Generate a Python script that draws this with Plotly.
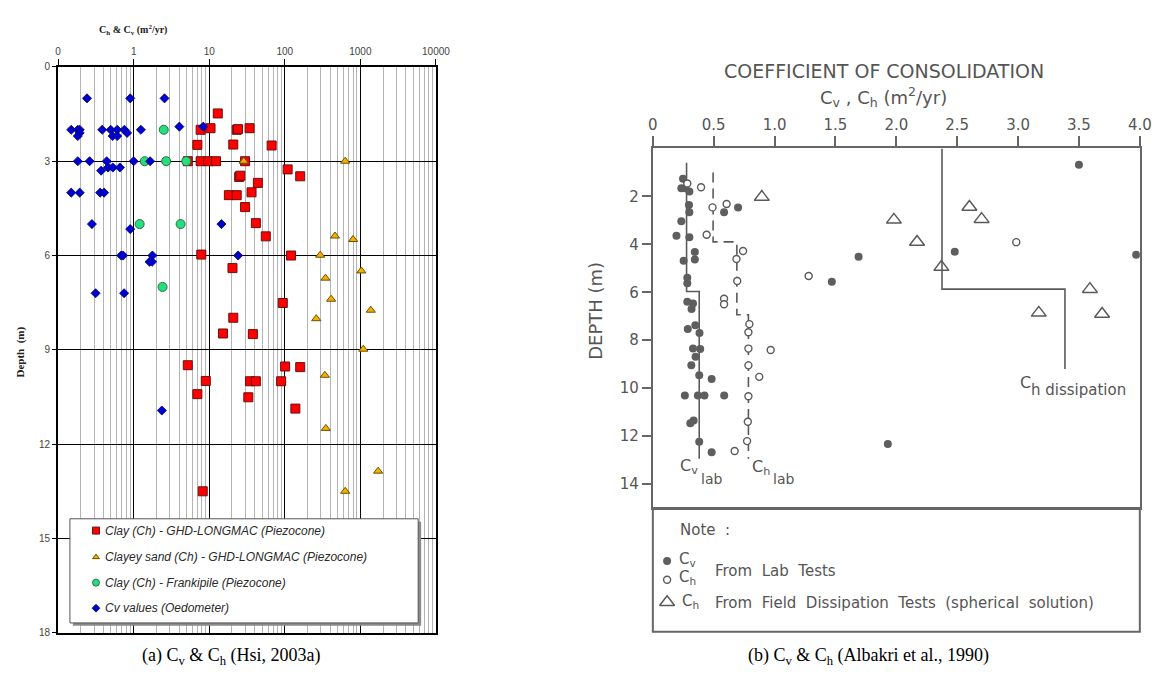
import plotly.graph_objects as go

W, H = 1174, 680

# ---------------- Panel (a): Hsi (2003a), log-scale coefficient ----------------
clay_ch = [12.97, 7.7, 10.4, 23.1, 24, 34.2, 6.96, 20.8, 67, 5.2, 7.7, 9.7, 12.3, 29.8,
           109, 160, 24.9, 25.8, 44, 36.3, 18.2, 23.1, 29.8, 41.4, 56, 7.85, 121, 20.3,
           94, 20.8, 15.2, 37.8, 5.2, 101, 160, 9.0, 34.6, 41.4, 89.4, 6.96, 32.9, 138, 8.2]
clay_depth = [1.48, 2.0, 1.95, 2.0, 1.98, 1.95, 2.48, 2.47, 2.5, 3.0, 3.0, 3.0, 3.0, 3.0,
              3.26, 3.48, 3.5, 3.46, 3.69, 3.99, 4.08, 4.08, 4.46, 4.97, 5.39, 5.97, 6.0, 6.4,
              7.51, 7.98, 8.48, 8.5, 9.49, 9.53, 9.55, 9.99, 10.0, 10.0, 10.0, 10.41, 10.51, 10.87, 13.5]

sand_ch = [28.6, 630, 462, 801, 294, 1030, 345, 410, 1374, 261, 1094, 339, 349, 1718, 630]
sand_depth = [3.0, 3.0, 5.38, 5.49, 5.99, 6.49, 6.72, 7.39, 7.74, 8.01, 8.98, 9.81, 11.5, 12.86, 13.5]

franki_ch = [2.5, 1.40, 2.69, 4.96, 1.2, 4.18, 2.41]
franki_depth = [2.0, 3.0, 3.0, 3.0, 5.0, 5.0, 7.0]

oedo_cv = [0.241, 0.90, 2.56,
           0.149, 0.182, 0.193, 0.383, 0.496, 0.606, 0.754, 1.245,
           0.193, 0.818, 0.182, 0.526, 0.606, 4.02, 8.34,
           0.182, 0.261, 0.44, 1.0, 1.65, 0.458, 0.53, 0.657, 0.371,
           0.149, 0.193, 0.36, 0.406, 0.28, 14.5, 0.9,
           0.683, 0.725, 1.77, 24.1, 1.62, 1.75, 0.313, 0.747, 2.36]
oedo_depth = [1.0, 1.0, 1.0,
              2.0, 2.0, 2.0, 2.0, 2.0, 2.0, 2.0, 2.0,
              2.1, 2.1, 2.2, 2.2, 2.2, 1.9, 1.9,
              3.0, 3.0, 3.0, 3.0, 3.0, 3.2, 3.2, 3.2, 3.3,
              4.0, 4.0, 4.0, 4.0, 5.0, 5.0, 5.16,
              6.0, 6.0, 6.0, 6.0, 6.2, 6.2, 7.2, 7.2, 10.93]

log_tickvals = [0.1, 1, 10, 100, 1000, 10000]
log_ticktext = ["0", "1", "10", "100", "1000", "10000"]
depth_ticks_a = [0, 3, 6, 9, 12, 15, 18]
legend_a = ["Clay (Ch) - GHD-LONGMAC (Piezocone)",
            "Clayey sand (Ch) - GHD-LONGMAC (Piezocone)",
            "Clay (Ch) - Frankipile (Piezocone)",
            "Cv values (Oedometer)"]

# ---------------- Panel (b): Albakri et al. (1990), linear coefficient ----------------
cv_lab_x = [0.248, 0.234, 0.267, 0.30, 0.297, 0.30, 0.234, 0.194, 0.30, 0.345, 0.345, 0.253,
            0.283, 0.283, 0.283, 0.33, 0.318, 0.585, 0.70, 1.69, 1.47, 3.50, 2.48, 3.97, 1.93,
            0.287, 0.349, 0.383, 0.33, 0.389, 0.351, 0.316, 0.381, 0.483, 0.263, 0.37, 0.424,
            0.586, 0.335, 0.308, 0.381, 0.483]
cv_lab_depth = [1.26, 1.66, 1.66, 1.80, 2.36, 2.66, 3.04, 3.64, 3.71, 4.32, 4.63, 4.69,
                5.39, 5.62, 6.40, 6.47, 6.70, 2.66, 2.46, 4.52, 5.56, 0.68, 4.31, 4.44, 12.33,
                7.53, 7.38, 7.70, 8.35, 8.37, 8.69, 9.05, 9.46, 9.62, 10.31, 10.31, 10.31,
                10.31, 11.35, 11.46, 12.24, 12.67]

ch_lab_x = [0.283, 0.396, 0.49, 0.606, 0.442, 0.741, 0.687, 0.693, 1.28, 0.585, 0.585, 2.985,
            0.793, 0.785, 0.785, 0.968, 0.785, 0.874, 0.785, 0.78, 0.774, 0.672]
ch_lab_depth = [1.46, 1.62, 2.46, 2.32, 3.60, 4.28, 4.61, 5.53, 5.32, 6.27, 6.50, 3.91,
                7.33, 7.67, 8.35, 8.41, 9.05, 9.53, 10.34, 11.4, 12.21, 12.62]

ch_field_x = [0.895, 1.98, 2.17, 2.37, 2.60, 2.70, 3.59, 3.17, 3.69]
ch_field_depth = [2.03, 2.98, 3.9, 4.95, 2.44, 2.95, 5.87, 6.86, 6.91]

# design profiles
cv_prof_x = [0.277, 0.277, 0.381, 0.381]
cv_prof_depth = [0.6, 5.97, 5.97, 12.95]
ch_prof_x = [0.495, 0.495, 0.69, 0.69, 0.785, 0.785]
ch_prof_depth = [1.0, 3.9, 3.9, 6.94, 6.94, 12.95]
diss_prof_x = [2.375, 2.375, 3.385, 3.385]
diss_prof_depth = [0.0, 5.87, 5.87, 9.2]

lin_tickvals = [0, 0.5, 1.0, 1.5, 2.0, 2.5, 3.0, 3.5, 4.0]
lin_ticktext = ["0", "0.5", "1.0", "1.5", "2.0", "2.5", "3.0", "3.5", "4.0"]
depth_ticks_b = [2, 4, 6, 8, 10, 12, 14]

# ---------------- styles ----------------
RED = dict(symbol="square", size=9, color="#ff0000", line=dict(color="#6a1010", width=1))
ORANGE = dict(symbol="triangle-up", size=8, color="#f7b000", line=dict(color="#6b5000", width=1))
GREEN = dict(symbol="circle", size=9, color="#22e07a", line=dict(color="#2f6a4c", width=1))
BLUE = dict(symbol="diamond", size=7, color="#0000d0", line=dict(color="#00006a", width=0.8))
INK = "#5a5a5a"
FONT_B = "DejaVu Sans"

fig = go.Figure()

for xs, ys, name, mk in [(clay_ch, clay_depth, legend_a[0], RED),
                         (sand_ch, sand_depth, legend_a[1], ORANGE),
                         (franki_ch, franki_depth, legend_a[2], GREEN),
                         (oedo_cv, oedo_depth, legend_a[3], BLUE)]:
    fig.add_trace(go.Scatter(x=xs, y=ys, mode="markers", name=name, marker=mk,
                             xaxis="x", yaxis="y", showlegend=False))

# panel (b): profile lines then points
fig.add_trace(go.Scatter(x=cv_prof_x, y=cv_prof_depth, mode="lines", xaxis="x2", yaxis="y2",
                         line=dict(color=INK, width=1.6), showlegend=False))
fig.add_trace(go.Scatter(x=ch_prof_x, y=ch_prof_depth, mode="lines", xaxis="x2", yaxis="y2",
                         line=dict(color=INK, width=1.6, dash="10px,6px"), showlegend=False))
fig.add_trace(go.Scatter(x=diss_prof_x, y=diss_prof_depth, mode="lines", xaxis="x2", yaxis="y2",
                         line=dict(color=INK, width=1.6), showlegend=False))
fig.add_trace(go.Scatter(x=cv_lab_x, y=cv_lab_depth, mode="markers", xaxis="x2", yaxis="y2",
                         name="Cv lab", marker=dict(symbol="circle", size=8, color="#5e5e5e"),
                         showlegend=False))
fig.add_trace(go.Scatter(x=ch_lab_x, y=ch_lab_depth, mode="markers", xaxis="x2", yaxis="y2",
                         name="Ch lab", marker=dict(symbol="circle", size=7, color="white",
                                                    line=dict(color=INK, width=1.4)),
                         showlegend=False))
fig.add_trace(go.Scatter(x=ch_field_x, y=ch_field_depth, mode="markers", xaxis="x2", yaxis="y2",
                         name="Ch field", marker=dict(symbol="triangle-up-open", size=13, color=INK,
                                                      line=dict(width=1.5)),
                         showlegend=False))

# key symbols, drawn on a page-sized pixel axis
key_a_y = [534, 561, 587, 613]
for yy, mk in zip(key_a_y, [RED, ORANGE, GREEN, BLUE]):
    m = dict(mk)
    m["size"] = max(mk["size"] - 2, 6)
    fig.add_trace(go.Scatter(x=[92.5], y=[yy], mode="markers", marker=m, xaxis="x3", yaxis="y3",
                             showlegend=False, hoverinfo="skip"))
fig.add_trace(go.Scatter(x=[673], y=[565], mode="markers", xaxis="x3", yaxis="y3",
                         marker=dict(symbol="circle", size=8, color="#5e5e5e"),
                         showlegend=False, hoverinfo="skip"))
fig.add_trace(go.Scatter(x=[673], y=[584], mode="markers", xaxis="x3", yaxis="y3",
                         marker=dict(symbol="circle", size=7, color="white", line=dict(color=INK, width=1.4)),
                         showlegend=False, hoverinfo="skip"))
fig.add_trace(go.Scatter(x=[673], y=[607], mode="markers", xaxis="x3", yaxis="y3",
                         marker=dict(symbol="triangle-up-open", size=13, color=INK, line=dict(width=1.5)),
                         showlegend=False, hoverinfo="skip"))

# intermediate log gridlines (2..9 in each decade)
minor_vals = [m * 10 ** e for e in range(-1, 4) for m in range(2, 10)]

fig.update_layout(
    width=W, height=H, margin=dict(l=0, r=0, t=0, b=0),
    paper_bgcolor="white", plot_bgcolor="rgba(0,0,0,0)", showlegend=False,
    xaxis=dict(domain=[54 / W, 438 / W], anchor="y", type="log", range=[-1, 4], side="top",
               tickmode="array", tickvals=log_tickvals, ticktext=log_ticktext,
               showgrid=True, gridcolor="black", gridwidth=1,
               minor=dict(tickmode="array", tickvals=minor_vals, showgrid=True,
                          gridcolor="#b4b4b4", gridwidth=1, ticks=""),
               showline=True, linecolor="black", linewidth=2, mirror=True,
               ticks="outside", ticklen=6, tickcolor="black", zeroline=False,
               tickfont=dict(family="Liberation Sans", size=10, color="#444")),
    yaxis=dict(domain=[1 - 638 / H, 1 - 62 / H], anchor="x", range=[18, 0],
               tickmode="array", tickvals=depth_ticks_a,
               showgrid=True, gridcolor="black", gridwidth=1.2,
               showline=True, linecolor="black", linewidth=2, mirror=True,
               ticks="outside", ticklen=4, tickcolor="black", zeroline=False,
               tickfont=dict(family="Liberation Sans", size=10, color="#444")),
    xaxis2=dict(domain=[658.5 / W, 1153.5 / W], anchor="y2", range=[0, 4], side="top",
                tickmode="array", tickvals=lin_tickvals, ticktext=lin_ticktext,
                showgrid=False, zeroline=False, showline=True, mirror=True,
                linecolor="#666", linewidth=2, ticks="outside", ticklen=10, tickwidth=1.5,
                tickcolor="#666", tickfont=dict(family=FONT_B, size=15, color="#555")),
    yaxis2=dict(domain=[1 - 511 / H, 1 - 145 / H], anchor="x2", range=[15, 0],
                tickmode="array", tickvals=depth_ticks_b,
                showgrid=False, zeroline=False, showline=True, mirror=True,
                linecolor="#666", linewidth=2, ticks="outside", ticklen=9, tickwidth=1.5,
                tickcolor="#666", tickfont=dict(family=FONT_B, size=15, color="#555")),
    xaxis3=dict(domain=[0, 1], anchor="y3", range=[0, W], visible=False, fixedrange=True),
    yaxis3=dict(domain=[0, 1], anchor="x3", range=[H, 0], visible=False, fixedrange=True),
)

shapes = [
    # key box for panel (a), with drop shadow
    dict(type="rect", xref="x3", yref="y3", x0=69, y0=525, x1=423, y1=631,
         fillcolor="#8a8a8a", line=dict(width=0), layer="between"),
    dict(type="rect", xref="x3", yref="y3", x0=66, y0=522, x1=420, y1=628,
         fillcolor="white", line=dict(color="#555", width=1), layer="between"),
    # note box under panel (b)
    dict(type="rect", xref="x3", yref="y3", x0=658.5, y0=511, x1=1153.5, y1=637,
         fillcolor="rgba(0,0,0,0)", line=dict(color="#666", width=2)),
]
fig.update_layout(shapes=shapes)

def txt(x, y, text, size, family, color="#333", xanchor="center", angle=0, **kw):
    fig.add_annotation(x=x, y=y, xref="x3", yref="y3", text=text, showarrow=False,
                       xanchor=xanchor, yanchor="middle", textangle=angle,
                       font=dict(family=family, size=size, color=color, **kw))

# panel (a) labels
txt(130, 24, "<b>C<sub>h</sub> &amp; C<sub>v</sub> (m<sup>2</sup>/yr)</b>", 10, "Liberation Serif", "#222")
txt(16, 352, "<b>Depth  (m)</b>", 11, "Liberation Serif", "#222", angle=-90)
for yy, lab in zip(key_a_y, legend_a):
    txt(100, yy, lab, 12, "Liberation Sans", "#2a2a2a", xanchor="left", style="italic")
txt(230, 662, "(a) C<sub>v</sub> &amp; C<sub>h</sub> (Hsi, 2003a)", 18, "Liberation Serif", "black")

# panel (b) labels
txt(893, 66, "COEFFICIENT OF CONSOLIDATION", 19, FONT_B, "#555")
txt(893, 93, "C<sub>v</sub> , C<sub>h</sub> (m<sup>2</sup>/yr)", 18, FONT_B, "#555")
txt(600, 310, "DEPTH (m)", 18, FONT_B, "#555", angle=-90)
txt(684, 469, "C<sub>v</sub>", 16, FONT_B, "#555", xanchor="left")
txt(705, 482, "lab", 14, FONT_B, "#555", xanchor="left")
txt(757, 470, "C<sub>h</sub>", 16, FONT_B, "#555", xanchor="left")
txt(779, 482, "lab", 14, FONT_B, "#555", xanchor="left")
txt(1030, 383, "C", 16, FONT_B, "#555", xanchor="left")
txt(1041, 391, "h dissipation", 15, FONT_B, "#555", xanchor="left")
txt(684, 533, "Note  :", 15, FONT_B, "#555", xanchor="left")
txt(683, 563, "C<sub>v</sub>", 15, FONT_B, "#555", xanchor="left")
txt(683, 582, "C<sub>h</sub>", 15, FONT_B, "#555", xanchor="left")
txt(720, 575, "From  Lab  Tests", 15, FONT_B, "#555", xanchor="left")
txt(686, 606, "C<sub>h</sub>", 15, FONT_B, "#555", xanchor="left")
txt(720, 608, "From  Field  Dissipation  Tests  (spherical  solution)", 15, FONT_B, "#555", xanchor="left")
txt(878, 662, "(b) C<sub>v</sub> &amp; C<sub>h</sub> (Albakri et al., 1990)", 18, "Liberation Serif", "black")

fig.write_html("out.html")
